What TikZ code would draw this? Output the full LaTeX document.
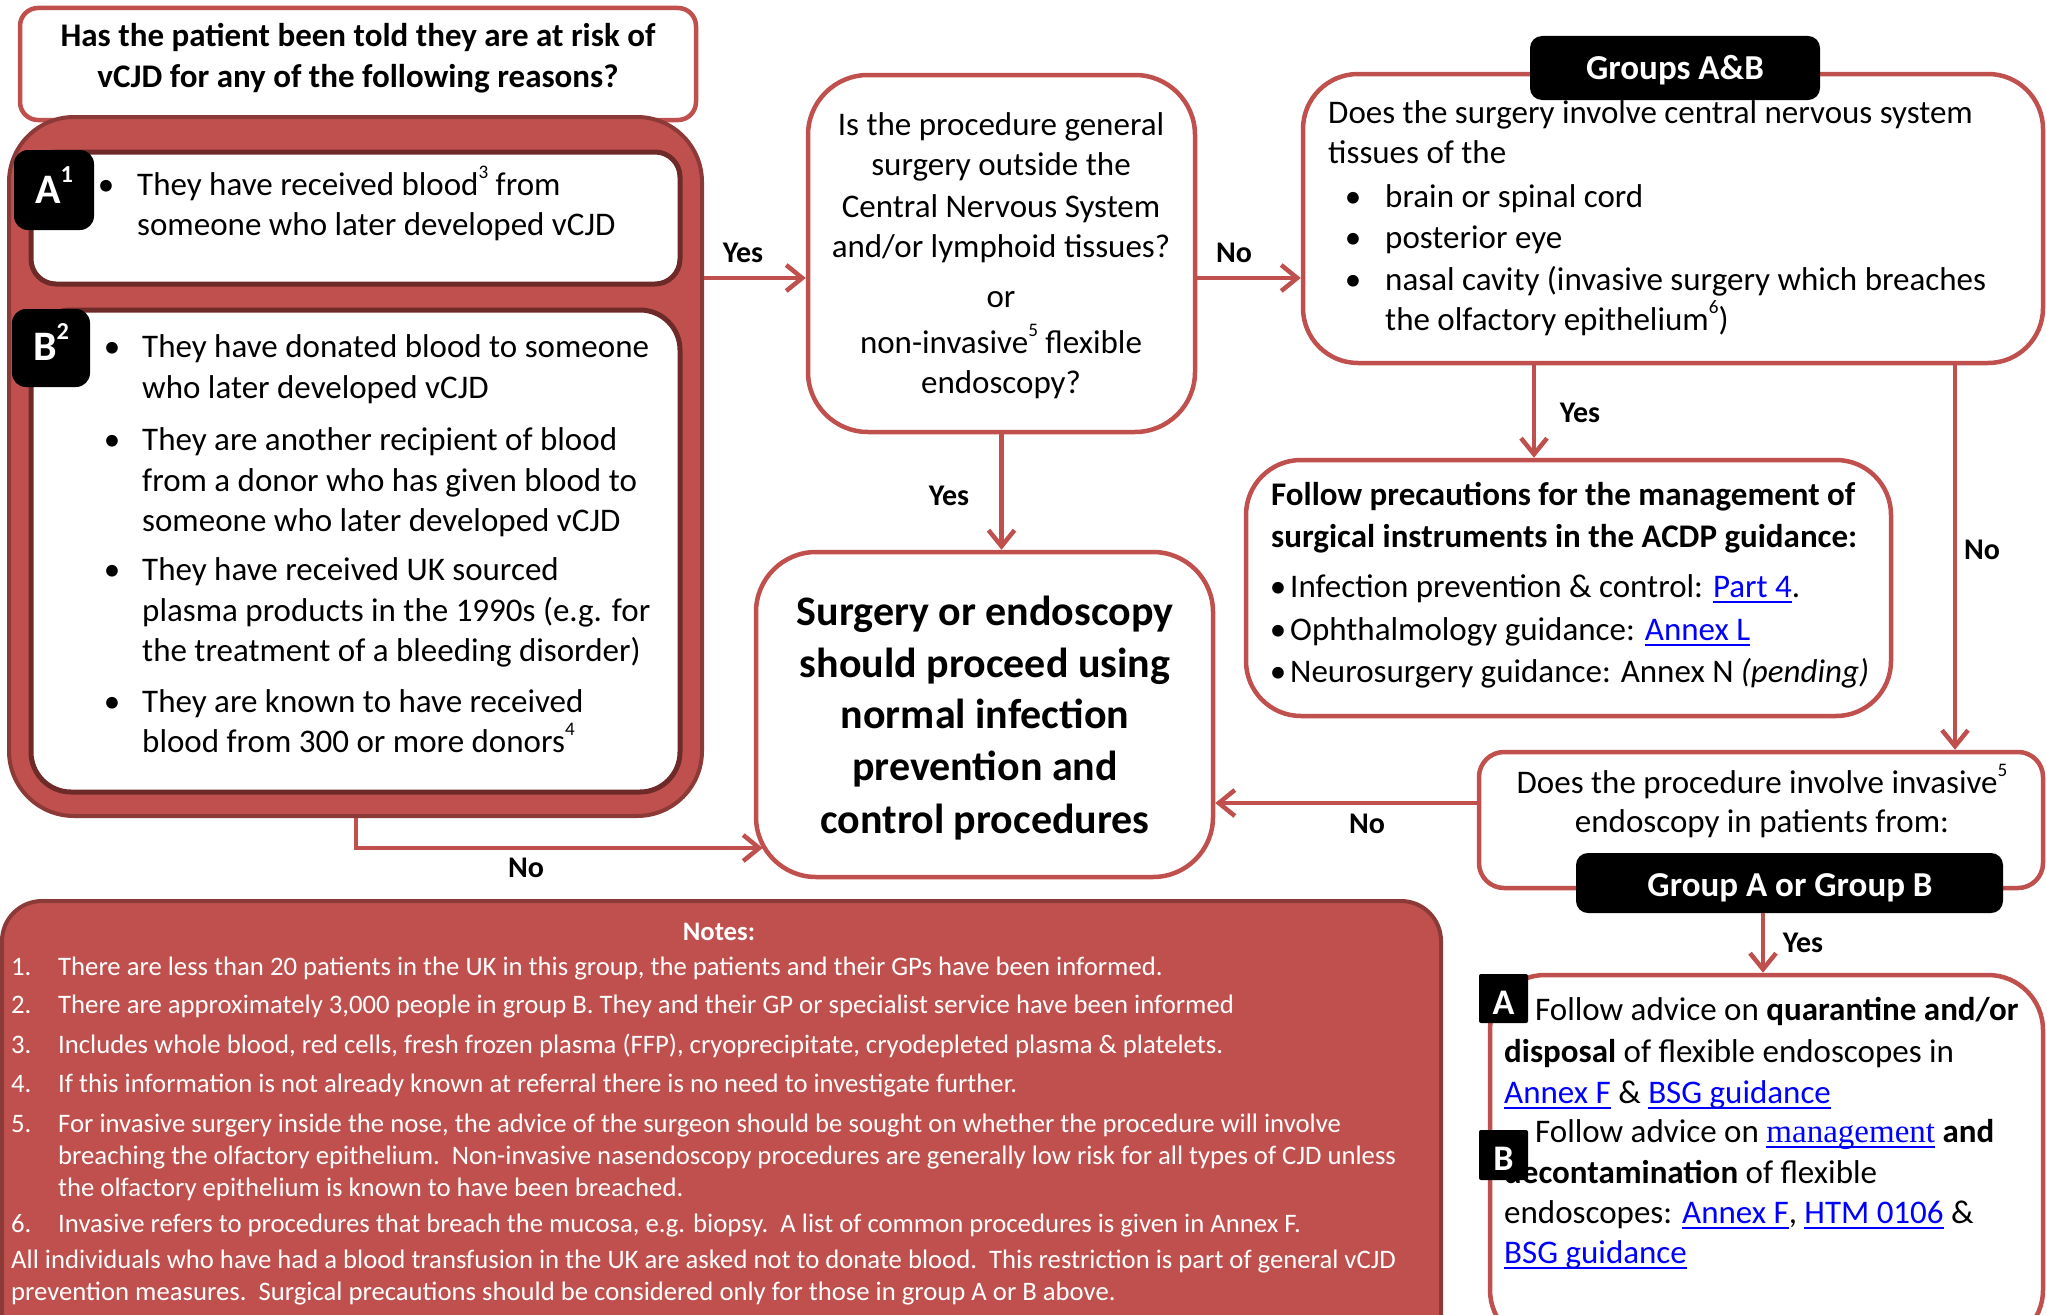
\documentclass[tikz,border=0pt]{standalone}
\usepackage{fontspec}
\setmainfont{Carlito}
\newfontfamily\serifT{Liberation Serif}
\usetikzlibrary{arrows.meta}
\definecolor{accent}{HTML}{C0504D}
\definecolor{outerred}{HTML}{8C3A38}
\definecolor{innerred}{HTML}{6E2A28}
\definecolor{linkblue}{HTML}{0000FF}
\newcommand\supx[1]{\raisebox{0.5em}{\scalebox{0.58}{#1}}}
\newcommand\mylink[1]{{\color{linkblue}\setbox0=\hbox{#1}\rlap{\rule[-6pt]{\wd0}{2.5pt}}\box0}}
\begin{document}
\begin{tikzpicture}[x=1pt,y=-1pt,
  boxw/.style={draw=accent,line width=4.5pt,fill=white,inner sep=0pt},
  outerbox/.style={draw=outerred,line width=4pt,fill=accent,inner sep=0pt},
  innerbox/.style={draw=innerred,line width=5pt,fill=white,inner sep=0pt},
  blk/.style={fill=black,draw=none,inner sep=0pt},
  linel/.style={anchor=base west,inner sep=0pt,font=\fontsize{33}{40}\selectfont},
  linec/.style={anchor=base,inner sep=0pt,font=\fontsize{33}{40}\selectfont},
  boldl/.style={anchor=base west,inner sep=0pt,font=\fontsize{33}{40}\selectfont\bfseries},
  boldc/.style={anchor=base,inner sep=0pt,font=\fontsize{33}{40}\selectfont\bfseries},
  bigc/.style={anchor=base,inner sep=0pt,font=\fontsize{42}{52}\selectfont\bfseries},
  yn/.style={anchor=base,inner sep=0pt,font=\fontsize{30}{36}\selectfont\bfseries},
  notel/.style={anchor=base west,inner sep=0pt,text=white,font=\fontsize{26.7}{32}\selectfont},
  arr/.style={draw=accent,line width=4.5pt,-{Straight Barb[length=16pt,width=26pt]}}
]
\useasboundingbox (0,0) rectangle (2047,1314);
\fill[white] (0,0) rectangle (2047,1314);
\clip (0,0) rectangle (2047,1314);

% ---------- left column ----------
\node[boxw,rounded corners=18pt,minimum width=676pt,minimum height=112pt] (topq) at (358,64) {};
\node[boldc] (tq1) at (358,47) {Has the patient been told they are at risk of};
\node[boldc] (tq2) at (358,87) {vCJD for any of the following reasons?};

\node[outerbox,rounded corners=65pt,minimum width=693pt,minimum height=699pt] (outer) at (355.5,466.5) {};
\node[innerbox,rounded corners=25pt,minimum width=649pt,minimum height=132pt] (abox) at (355.5,218) {};
\node[innerbox,rounded corners=40pt,minimum width=649pt,minimum height=482pt] (bbox) at (355.5,551) {};
\node[blk,rounded corners=14pt,minimum width=80pt,minimum height=80pt] (alab) at (54,190) {};
\node[blk,rounded corners=14pt,minimum width=78pt,minimum height=78pt] (blab) at (51,348) {};
\node[anchor=base,inner sep=0pt,text=white,font=\fontsize{42}{50}\selectfont\bfseries] (alabt) at (54,203) {A\supx{1}};
\node[anchor=base,inner sep=0pt,text=white,font=\fontsize{42}{50}\selectfont\bfseries] (blabt) at (51,360) {B\supx{2}};

\node[linec] (ab1) at (106,195) {•};
\node[linel] (at1) at (137,195) {They have received blood\supx{3} from};
\node[linel] (at2) at (137,235) {someone who later developed vCJD};

\node[linec] (bb1) at (112,357) {•};
\node[linel] (bt1) at (142,357) {They have donated blood to someone};
\node[linel] (bt2) at (142,398) {who later developed vCJD};
\node[linec] (bb2) at (112,450) {•};
\node[linel] (bt3) at (142,450) {They are another recipient of blood};
\node[linel] (bt4) at (142,491) {from a donor who has given blood to};
\node[linel] (bt5) at (142,531) {someone who later developed vCJD};
\node[linec] (bb3) at (112,580) {•};
\node[linel] (bt6) at (142,580) {They have received UK sourced};
\node[linel] (bt7) at (142,621) {plasma products in the 1990s (e.g. for};
\node[linel] (bt8) at (142,661) {the treatment of a bleeding disorder)};
\node[linec] (bb4) at (112,712) {•};
\node[linel] (bt9) at (142,712) {They are known to have received};
\node[linel] (bt10) at (142,752) {blood from 300 or more donors\supx{4}};

% ---------- centre ----------
\node[boxw,rounded corners=60pt,minimum width=387pt,minimum height=357pt] (q2) at (1001.5,253.5) {};
\node[linec] (q2t1) at (1001,135) {Is the procedure general};
\node[linec] (q2t2) at (1001,175) {surgery outside the};
\node[linec] (q2t3) at (1001,217) {Central Nervous System};
\node[linec] (q2t4) at (1001,257) {and/or lymphoid tissues?};
\node[linec] (q2t5) at (1001,307) {or};
\node[linec] (q2t6) at (1001,353) {non-invasive\supx{5} flexible};
\node[linec] (q2t7) at (1001,393) {endoscopy?};

\node[boxw,rounded corners=60pt,minimum width=457pt,minimum height=325pt] (main) at (984.5,714.5) {};
\node[bigc] (m1) at (985,625) {Surgery or endoscopy};
\node[bigc] (m2) at (985,677) {should proceed using};
\node[bigc] (m3) at (985,728) {normal infection};
\node[bigc] (m4) at (985,780) {prevention and};
\node[bigc] (m5) at (985,833) {control procedures};

% ---------- right column ----------
\node[boxw,rounded corners=55pt,minimum width=740pt,minimum height=289pt] (q3) at (1673,218.5) {};
\node[blk,rounded corners=12pt,minimum width=290pt,minimum height=64pt] (grpab) at (1675,68) {};
\node[anchor=base,inner sep=0pt,text=white,font=\fontsize{35}{40}\selectfont\bfseries] (grpabt) at (1675,79) {Groups A\&B};
\node[linel] (q3t1) at (1328,123) {Does the surgery involve central nervous system};
\node[linel] (q3t2) at (1328,163) {tissues of the};
\node[linec] (q3b1) at (1353,207) {•};
\node[linel] (q3t3) at (1385,207) {brain or spinal cord};
\node[linec] (q3b2) at (1353,248) {•};
\node[linel] (q3t4) at (1385,248) {posterior eye};
\node[linec] (q3b3) at (1353,290) {•};
\node[linel] (q3t5) at (1385,290) {nasal cavity (invasive surgery which breaches};
\node[linel] (q3t6) at (1385,330) {the olfactory epithelium\supx{6})};

\node[boxw,rounded corners=55pt,minimum width=645pt,minimum height=256pt] (prec) at (1568.5,588) {};
\node[boldl] (p1) at (1271,505) {Follow precautions for the management of};
\node[boldl] (p2) at (1271,547) {surgical instruments in the ACDP guidance:};
\node[linec] (pb1) at (1278,597) {•};
\node[linel] (p3) at (1290,597) {Infection prevention \& control: \mylink{Part 4}.};
\node[linec] (pb2) at (1278,640) {•};
\node[linel] (p4) at (1290,640) {Ophthalmology guidance: \mylink{Annex L}};
\node[linec] (pb3) at (1278,682) {•};
\node[linel] (p5) at (1290,682) {Neurosurgery guidance: Annex N \textit{(pending)}};

\node[boxw,rounded corners=25pt,minimum width=564pt,minimum height=136pt] (q4) at (1761,820) {};
\node[linec] (q4t1) at (1762,793) {Does the procedure involve invasive\supx{5}};
\node[linec] (q4t2) at (1762,832) {endoscopy in patients from:};
\node[blk,rounded corners=12pt,minimum width=427pt,minimum height=60pt] (grpaorb) at (1789.5,883) {};
\node[anchor=base,inner sep=0pt,text=white,font=\fontsize{35}{40}\selectfont\bfseries] (grpaorbt) at (1790,896) {Group A or Group B};

\node[boxw,rounded corners=55pt,minimum width=553pt,minimum height=370pt] (final) at (1766.5,1160) {};
\node[linel] (f1) at (1535,1020) {Follow advice on \textbf{quarantine and/or}};
\node[linel] (f2) at (1504,1062) {\textbf{disposal} of flexible endoscopes in};
\node[linel] (f3) at (1504,1103) {\mylink{Annex F} \& \mylink{BSG guidance}};
\node[linel] (f4) at (1535,1142) {Follow advice on \mylink{\serifT management} \textbf{and}};
\node[linel] (f5) at (1504,1183) {\textbf{decontamination} of flexible};
\node[linel] (f6) at (1504,1223) {endoscopes: \mylink{Annex F}, \mylink{HTM 0106} \&};
\node[linel] (f7) at (1504,1263) {\mylink{BSG guidance}};
\node[blk,rounded corners=2pt,minimum width=49pt,minimum height=49pt] (fa) at (1503.5,998.5) {};
\node[blk,rounded corners=2pt,minimum width=49pt,minimum height=50pt] (fb) at (1503.5,1155) {};
\node[anchor=base,inner sep=0pt,text=white,font=\fontsize{36}{40}\selectfont\bfseries] (fat) at (1503.5,1014) {A};
\node[anchor=base,inner sep=0pt,text=white,font=\fontsize{36}{40}\selectfont\bfseries] (fbt) at (1503.5,1170) {B};

% ---------- notes ----------
\node[outerbox,rounded corners=40pt,minimum width=1439pt,minimum height=458pt] (notes) at (721.5,1130) {};
\node[anchor=base,inner sep=0pt,text=white,font=\fontsize{26.7}{32}\selectfont\bfseries] (nh) at (719,940) {Notes:};
\node[notel] (n1n) at (11,975) {1.};
\node[notel] (n1) at (58,975) {There are less than 20 patients in the UK in this group, the patients and their GPs have been informed.};
\node[notel] (n2n) at (11,1013) {2.};
\node[notel] (n2) at (58,1013) {There are approximately 3,000 people in group B. They and their GP or specialist service have been informed};
\node[notel] (n3n) at (11,1053) {3.};
\node[notel] (n3) at (58,1053) {Includes whole blood, red cells, fresh frozen plasma (FFP), cryoprecipitate, cryodepleted plasma \& platelets.};
\node[notel] (n4n) at (11,1092) {4.};
\node[notel] (n4) at (58,1092) {If this information is not already known at referral there is no need to investigate further.};
\node[notel] (n5n) at (11,1132) {5.};
\node[notel] (n5a) at (58,1132) {For invasive surgery inside the nose, the advice of the surgeon should be sought on whether the procedure will involve};
\node[notel] (n5b) at (58,1164) {breaching the olfactory epithelium.\ \ Non-invasive nasendoscopy procedures are generally low risk for all types of CJD unless};
\node[notel] (n5c) at (58,1196) {the olfactory epithelium is known to have been breached.};
\node[notel] (n6n) at (11,1232) {6.};
\node[notel] (n6) at (58,1232) {Invasive refers to procedures that breach the mucosa, e.g. biopsy.\ \ A list of common procedures is given in Annex F.};
\node[notel] (n7a) at (11,1268) {All individuals who have had a blood transfusion in the UK are asked not to donate blood.\ \ This restriction is part of general vCJD};
\node[notel] (n7b) at (11,1300) {prevention measures.\ \ Surgical precautions should be considered only for those in group A or B above.};

% ---------- connectors ----------
\coordinate (yA) at (0,278);
\coordinate (xP) at (1534,0);
\coordinate (xQ) at (1955,0);
\coordinate (yM) at (0,803);
\coordinate (xN) at (356,0);
\coordinate (yN) at (0,848);
\coordinate (xG) at (1763,0);
\draw[arr] (outer.east |- yA) -- (q2.west |- yA);
\draw[arr] (q2.east |- yA) -- (q3.west |- yA);
\draw[arr] (q2.south) -- (q2.south |- main.north);
\draw[arr] (q3.south -| xP) -- (prec.north -| xP);
\draw[arr] (q3.south -| xQ) -- (q4.north -| xQ);
\draw[arr] (q4.west |- yM) -- (main.east |- yM);
\draw[arr] (outer.south -| xN) |- ([xshift=9pt]main.west |- yN);
\draw[arr] (grpaorb.south -| xG) -- (final.north -| xG);

\node[yn] (y1) at (743,262) {Yes};
\node[yn] (no1) at (1234,262) {No};
\node[yn] (y2) at (949,505) {Yes};
\node[yn] (y3) at (1580,422) {Yes};
\node[yn] (no2) at (1982,559) {No};
\node[yn] (no3) at (1367,833) {No};
\node[yn] (no4) at (526,877) {No};
\node[yn] (y4) at (1803,952) {Yes};
\end{tikzpicture}
\end{document}
